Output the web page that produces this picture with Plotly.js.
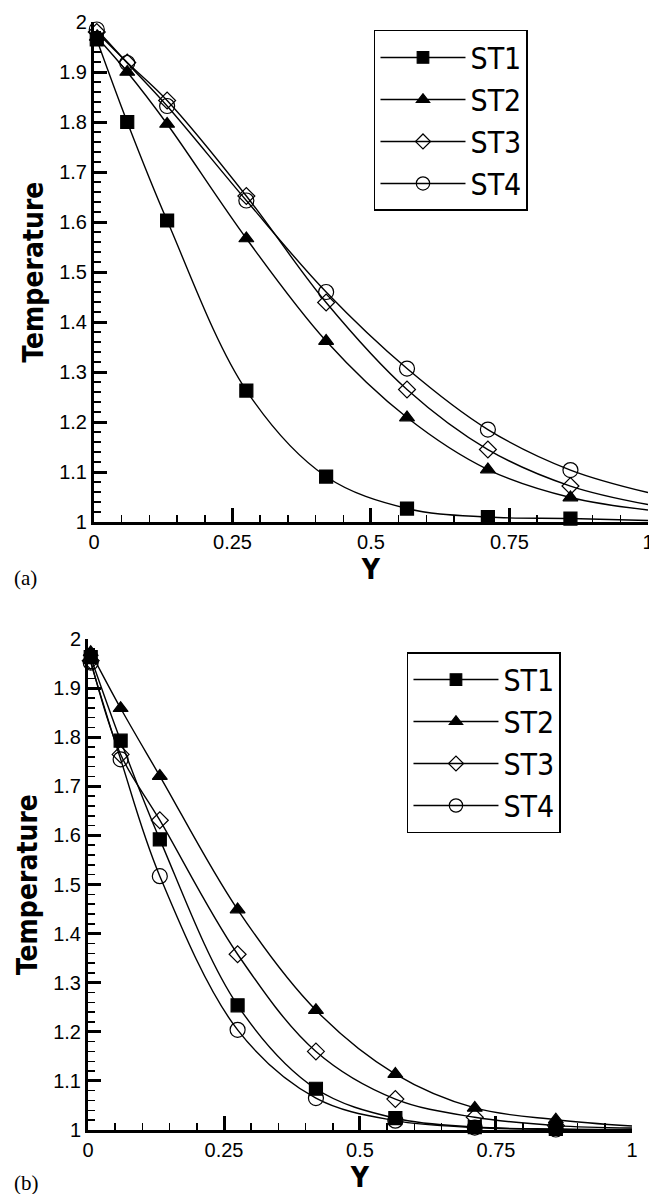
<!DOCTYPE html>
<html><head><meta charset="utf-8">
<script src="https://cdn.plot.ly/plotly-3.0.1.min.js"></script>
<style>html,body{margin:0;padding:0;background:#fff}</style>
</head><body><div id="chart" style="width:649px;height:1194px"></div>
<script>
// Y positions of the sample points (last entry = curve end, drawn without a marker)
const yPos = [0.005, 0.06, 0.132, 0.275, 0.419, 0.565, 0.711, 0.86, 1.0];
const seriesNames = ['ST1', 'ST2', 'ST3', 'ST4'];

// Panel (a) temperatures
const tempA_ST1 = [1.965, 1.800, 1.603, 1.263, 1.091, 1.027, 1.010, 1.007, 1.003];
const tempA_ST2 = [1.970, 1.900, 1.796, 1.567, 1.362, 1.209, 1.105, 1.049, 1.024];
const tempA_ST3 = [1.980, 1.919, 1.843, 1.652, 1.439, 1.265, 1.145, 1.072, 1.035];
const tempA_ST4 = [1.985, 1.918, 1.832, 1.643, 1.460, 1.307, 1.185, 1.104, 1.059];

// Panel (b) temperatures
const tempB_ST1 = [1.963, 1.793, 1.592, 1.254, 1.084, 1.024, 1.006, 1.002, 1.001];
const tempB_ST2 = [1.973, 1.859, 1.721, 1.449, 1.244, 1.114, 1.045, 1.021, 1.008];
const tempB_ST3 = [1.956, 1.765, 1.631, 1.358, 1.160, 1.063, 1.026, 1.009, 1.004];
const tempB_ST4 = [1.952, 1.755, 1.517, 1.204, 1.065, 1.019, 1.005, 1.001, 1.001];

// Tick labels
const xTickVals = [0, 0.25, 0.5, 0.75, 1];
const xTickText = ['0', '0.25', '0.5', '0.75', '1'];
const yTickVals = [1, 1.1, 1.2, 1.3, 1.4, 1.5, 1.6, 1.7, 1.8, 1.9, 2];
const yTickText = ['1', '1.1', '1.2', '1.3', '1.4', '1.5', '1.6', '1.7', '1.8', '1.9', '2'];

const panelA = [tempA_ST1, tempA_ST2, tempA_ST3, tempA_ST4];
const panelB = [tempB_ST1, tempB_ST2, tempB_ST3, tempB_ST4];

const symbols = ['square', 'triangle-up', 'diamond-open', 'circle-open'];
const symSizes = [13, 13, 13, 15];

function sizeArr(n, s) { return yPos.map((_, i) => i === n - 1 ? 0 : s); }

const traces = [];
[[panelA, 'x', 'y', 'legend'], [panelB, 'x2', 'y2', 'legend2']].forEach(([panel, xa, ya, lg]) => {
  panel.forEach((vals, k) => {
    traces.push({
      type: 'scatter', mode: 'lines+markers', name: seriesNames[k],
      x: yPos, y: vals, xaxis: xa, yaxis: ya, legend: lg,
      line: {color: 'black', width: 1.4, shape: 'spline', smoothing: 1},
      marker: {symbol: symbols[k], size: sizeArr(yPos.length, symSizes[k]), color: 'black', opacity: 1,
               line: {color: 'black', width: 1.2}},
      cliponaxis: false, hoverinfo: 'skip'
    });
  });
});

const tickFont = {family: 'Liberation Sans, Arial, sans-serif', size: 20, color: 'black'};
const titleFont = {family: 'Liberation Sans Narrow, DejaVu Sans Condensed, sans-serif', size: 28, color: 'black', weight: 'bold'};
const legFont = {family: 'Liberation Sans Narrow, DejaVu Sans Condensed, sans-serif', size: 30, color: 'black'};

function xAxis(domain, anchor, standoff) {
  return {
    domain: domain, anchor: anchor, range: [0, 1],
    tickmode: 'array', tickvals: xTickVals, ticktext: xTickText,
    ticks: 'inside', ticklen: 14, tickwidth: 3, tickcolor: 'black',
    minor: {tickmode: 'linear', tick0: 0, dtick: 0.05, ticks: 'inside', ticklen: 7, tickwidth: 1.5, tickcolor: 'black', showgrid: false},
    showline: true, linewidth: 3, linecolor: 'black', showgrid: false, zeroline: false,
    tickfont: tickFont, ticklabeloverflow: 'allow',
    title: {text: 'Y', font: titleFont, standoff: standoff}
  };
}
function yAxis(domain, anchor) {
  return {
    domain: domain, anchor: anchor, range: [1, 2],
    tickmode: 'array', tickvals: yTickVals, ticktext: yTickText,
    ticks: 'inside', ticklen: 13, tickwidth: 3, tickcolor: 'black',
    minor: {tickmode: 'linear', tick0: 1, dtick: 0.02, ticks: 'inside', ticklen: 7, tickwidth: 1.5, tickcolor: 'black', showgrid: false},
    showline: true, linewidth: 3, linecolor: 'black', showgrid: false, zeroline: false,
    tickfont: tickFont,
    title: {text: 'Temperature', font: titleFont, standoff: 8}
  };
}

function legendCfg(x, y) {
  return {x: x, y: y, xanchor: 'left', yanchor: 'top', bordercolor: 'black', borderwidth: 1.5,
          bgcolor: 'white', font: legFont, itemwidth: 85, tracegroupgap: 0};
}

const layout = {
  width: 649, height: 1194, paper_bgcolor: 'white', plot_bgcolor: 'white',
  margin: {l: 88, r: 1, t: 22, b: 64}, showlegend: true,
  xaxis: xAxis([0.0107, 1.0], 'y', 4),
  yaxis: yAxis([0.5487, 1.0], 'x'),
  xaxis2: xAxis([0, 0.9714], 'y2', 2),
  yaxis2: yAxis([0, 0.4431], 'x2'),
  legend: legendCfg(0.5107, 0.9928),
  legend2: legendCfg(0.5696, 0.4314),
  annotations: [
    {text: '(a)', xref: 'paper', yref: 'paper', x: -0.135, y: 0.498, xanchor: 'left', yanchor: 'middle', showarrow: false,
     font: {family: 'Liberation Serif, Times New Roman, serif', size: 21, color: 'black'}},
    {text: '(b)', xref: 'paper', yref: 'paper', x: -0.135, y: -0.048, xanchor: 'left', yanchor: 'middle', showarrow: false,
     font: {family: 'Liberation Serif, Times New Roman, serif', size: 21, color: 'black'}}
  ]
};

Plotly.newPlot('chart', traces, layout, {staticPlot: true, displayModeBar: false});
</script>
</body></html>
